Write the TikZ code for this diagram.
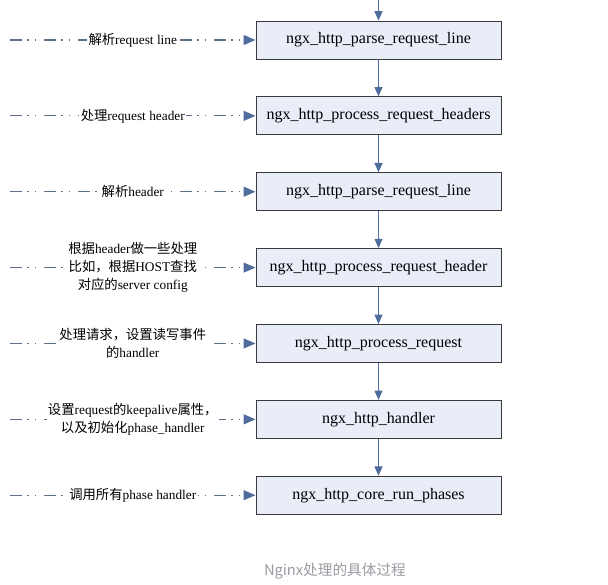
\documentclass[tikz,border=0pt]{standalone}
\usepackage{fontspec}
\setmainfont{Liberation Serif}
\newfontfamily\cjk{Noto Sans CJK SC}
\usetikzlibrary{arrows.meta}
\usetikzlibrary{positioning}

\definecolor{boxfill}{HTML}{E8EDF7}
\definecolor{boxline}{HTML}{3A3A3A}
\definecolor{flow}{HTML}{4F6D9C}
\definecolor{feedline}{HTML}{5E7189}
\definecolor{capgray}{HTML}{9A9CA3}

\tikzset{
  func/.style={draw=boxline,fill=boxfill,line width=.7pt,minimum width=183.75pt,
    minimum height=28.5pt,inner sep=0pt,font=\fontsize{12}{14}\selectfont},
  flowarrow/.style={flow,line width=.8pt,-{Triangle[length=7pt,width=6pt]}},
  feed/.style={feedline,line width=.9pt,
    dash pattern=on 9pt off 4pt on 1pt off 4.5pt on 1pt off 6pt,
    -{Triangle[length=9pt,width=7.5pt,color=flow]}},
  tag/.style={fill=white,text=black,align=center,inner sep=1pt,
    font=\fontsize{10}{13.5}\selectfont}
}

\begin{document}
\begin{tikzpicture}[x=.75pt,y=-.75pt,node distance=27.7pt]
  \useasboundingbox (0,0) rectangle (608,585);

  % the call chain
  \node[func] (parseline) at (378.5,40) {ngx\_http\_parse\_request\_line};
  \node[func,below=of parseline] (procheaders) {ngx\_http\_process\_request\_headers};
  \node[func,below=of procheaders] (parsehdr) {ngx\_http\_parse\_request\_line};
  \node[func,below=of parsehdr] (prochdr) {ngx\_http\_process\_request\_header};
  \node[func,below=of prochdr] (procreq) {ngx\_http\_process\_request};
  \node[func,below=of procreq] (handler) {ngx\_http\_handler};
  \node[func,below=of handler] (runphases) {ngx\_http\_core\_run\_phases};

  \coordinate (entry) at (378.5,0);
  \draw[flowarrow] (entry) -- (parseline);
  \draw[flowarrow] (parseline) -- (procheaders);
  \draw[flowarrow] (procheaders) -- (parsehdr);
  \draw[flowarrow] (parsehdr) -- (prochdr);
  \draw[flowarrow] (prochdr) -- (procreq);
  \draw[flowarrow] (procreq) -- (handler);
  \draw[flowarrow] (handler) -- (runphases);

  % what each step does
  \coordinate (edge) at (10,0);
  \draw[feed] (parseline -| edge) -- node[tag]{{\cjk 解析}request line} (parseline.west);
  \draw[feed] (procheaders -| edge) -- node[tag]{{\cjk 处理}request header} (procheaders.west);
  \draw[feed] (parsehdr -| edge) -- node[tag]{{\cjk 解析}header} (parsehdr.west);
  \draw[feed] (prochdr -| edge) -- node[tag]{{\cjk 根据}header{\cjk 做一些处理}\\
    {\cjk 比如，根据}HOST{\cjk 查找}\\{\cjk 对应的}server config} (prochdr.west);
  \draw[feed] (procreq -| edge) -- node[tag]{{\cjk 处理请求，设置读写事件}\\
    {\cjk 的}handler} (procreq.west);
  \draw[feed] (handler -| edge) -- node[tag]{{\cjk 设置}request{\cjk 的}keepalive{\cjk 属性，}\\
    {\cjk 以及初始化}phase\_handler} (handler.west);
  \draw[feed] (runphases -| edge) -- node[tag]{{\cjk 调用所有}phase handler} (runphases.west);

  \node[font=\cjk\fontsize{11}{13}\selectfont,text=capgray] (caption) at (335,571)
    {Nginx处理的具体过程};
\end{tikzpicture}
\end{document}
